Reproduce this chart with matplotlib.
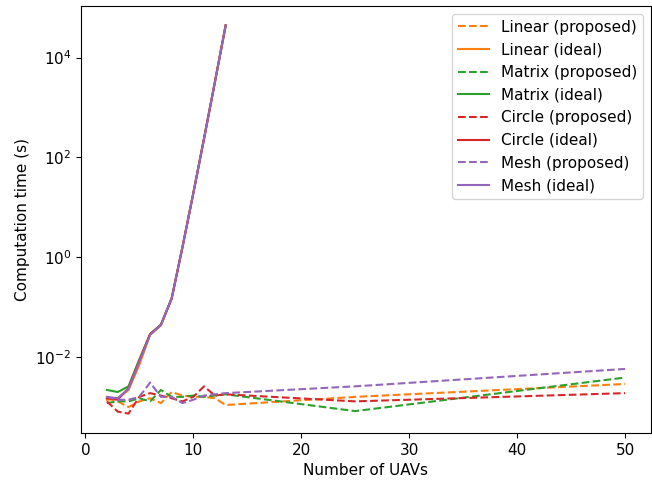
import numpy as np
import matplotlib
matplotlib.use('Agg')
import matplotlib.pyplot as plt
from matplotlib.ticker import LogLocator, NullLocator

# number of UAVs
x_ideal = [2, 3, 4, 5, 6, 7, 8, 9, 10, 11, 12, 13]
x_prop = [2, 3, 4, 5, 6, 7, 8, 9, 10, 11, 12, 13, 25, 50]

# computation time (s)
linear_prop = [1.5e-3, 1.3e-3, 1.0e-3, 1.3e-3, 1.5e-3, 1.2e-3, 2.0e-3, 1.7e-3,
               1.6e-3, 1.6e-3, 1.5e-3, 1.1e-3, 1.6e-3, 2.9e-3]
matrix_prop = [1.2e-3, 1.3e-3, 1.3e-3, 1.5e-3, 1.3e-3, 2.2e-3, 1.6e-3, 1.6e-3,
               1.7e-3, 1.6e-3, 1.7e-3, 1.8e-3, 8.3e-4, 3.9e-3]
circle_prop = [1.3e-3, 8.1e-4, 7.4e-4, 1.6e-3, 1.9e-3, 1.7e-3, 1.5e-3, 1.3e-3,
               1.6e-3, 2.6e-3, 1.7e-3, 1.8e-3, 1.3e-3, 1.9e-3]
mesh_prop = [1.6e-3, 1.4e-3, 1.4e-3, 1.6e-3, 3.1e-3, 1.6e-3, 1.6e-3, 1.2e-3,
             1.4e-3, 1.7e-3, 1.8e-3, 1.9e-3, 2.6e-3, 5.8e-3]

linear_ideal = [1.4e-3, 1.5e-3, 2.2e-3, 7.0e-3, 0.028, 0.043, 0.15, 1.6,
                19, 240, 3200, 4.4e4]
matrix_ideal = [2.2e-3, 2.0e-3, 2.6e-3, 9.0e-3, 0.029, 0.045, 0.15, 1.6,
                19, 240, 3200, 4.4e4]
circle_ideal = [1.5e-3, 1.4e-3, 2.4e-3, 8.5e-3, 0.029, 0.044, 0.15, 1.6,
                19, 240, 3200, 4.4e4]
mesh_ideal = [1.6e-3, 1.5e-3, 2.3e-3, 8.0e-3, 0.028, 0.044, 0.15, 1.6,
              19, 240, 3200, 4.4e4]

fig = plt.figure(figsize=(6.52, 4.87), dpi=100)
ax = fig.add_axes([81 / 652, 1 - 433 / 487, 570 / 652, 427 / 487])

ax.plot(x_prop, linear_prop, '--', color='C1', label='Linear (proposed)')
ax.plot(x_ideal, linear_ideal, '-', color='C1', label='Linear (ideal)')
ax.plot(x_prop, matrix_prop, '--', color='C2', label='Matrix (proposed)')
ax.plot(x_ideal, matrix_ideal, '-', color='C2', label='Matrix (ideal)')
ax.plot(x_prop, circle_prop, '--', color='C3', label='Circle (proposed)')
ax.plot(x_ideal, circle_ideal, '-', color='C3', label='Circle (ideal)')
ax.plot(x_prop, mesh_prop, '--', color='C4', label='Mesh (proposed)')
ax.plot(x_ideal, mesh_ideal, '-', color='C4', label='Mesh (ideal)')

ax.set_yscale('log')
ax.yaxis.set_major_locator(LogLocator(base=100))
ax.yaxis.set_minor_locator(NullLocator())
ax.set_xlabel('Number of UAVs', fontsize=11)
ax.set_ylabel('Computation time (s)', fontsize=11)
ax.tick_params(labelsize=11)
ax.legend(loc='upper right', fontsize=11)

fig.savefig('out.png', dpi=100)
